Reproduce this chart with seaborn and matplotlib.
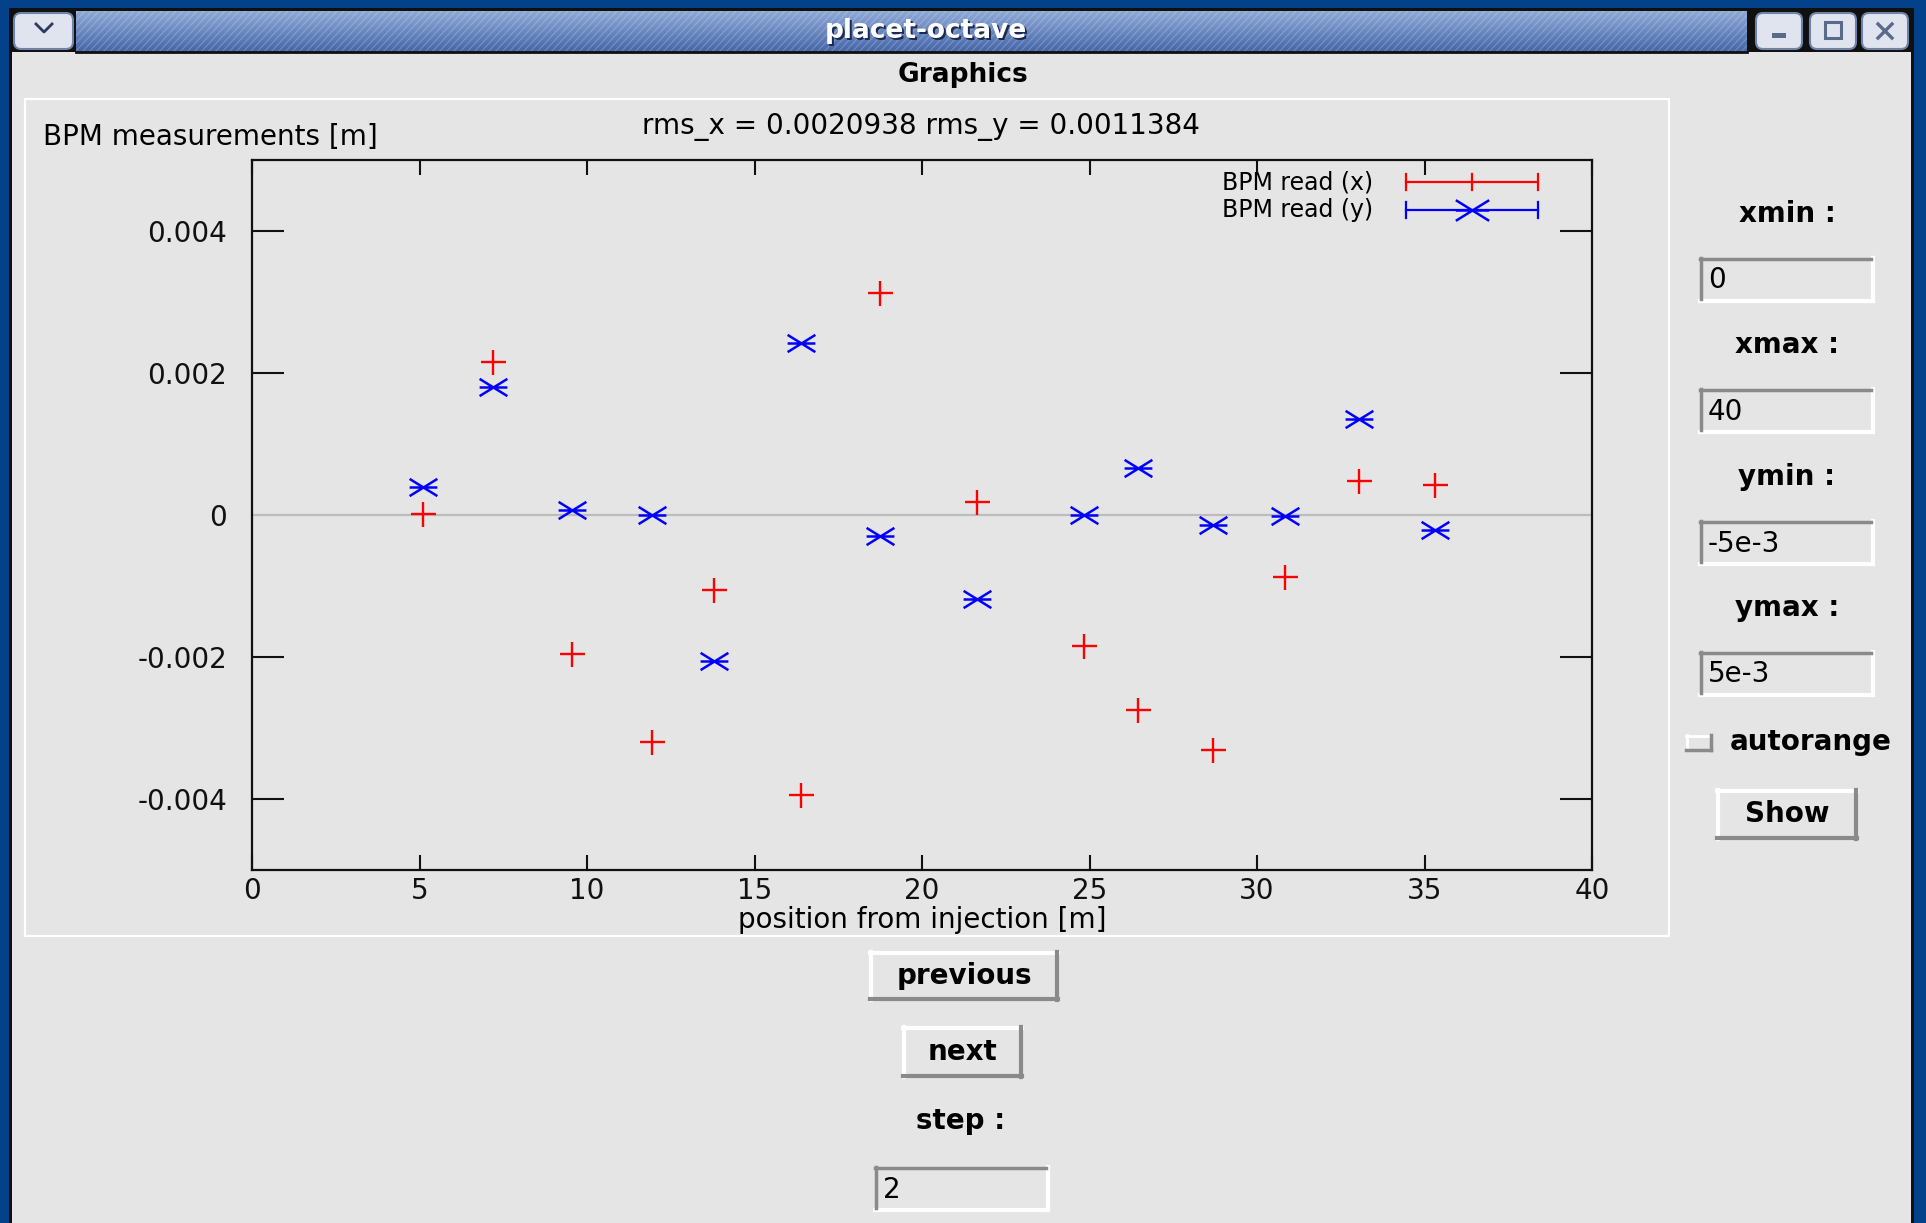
import numpy as np
import pandas as pd
import matplotlib
matplotlib.use("Agg")
import matplotlib.pyplot as plt
from matplotlib.path import Path
from matplotlib.patches import Rectangle, FancyBboxPatch
import seaborn as sns

# ---------------- data ----------------
positions = [5.1, 7.2, 9.55, 11.95, 13.8, 16.4, 18.75, 21.65, 24.85, 26.45, 28.7, 30.85, 33.05, 35.3]
bpm_x = [0.00002, 0.00216, -0.00196, -0.00320, -0.00106, -0.00395, 0.00312,
         0.00019, -0.00184, -0.00274, -0.00331, -0.00088, 0.00048, 0.00042]
bpm_y = [0.00040, 0.00180, 0.00007, 0.00000, -0.00206, 0.00242, -0.00029,
         -0.00119, 0.00000, 0.00066, -0.00014, -0.00002, 0.00135, -0.00021]
x_ticks = [0, 5, 10, 15, 20, 25, 30, 35, 40]
y_ticks = [-0.004, -0.002, 0.0, 0.002, 0.004]
y_tick_labels = ["-0.004", "-0.002", "0", "0.002", "0.004"]
legend_labels = ["BPM read (x)", "BPM read (y)"]
title_text = "rms_x = 0.0020938 rms_y = 0.0011384"
field_labels = ["xmin :", "xmax :", "ymin :", "ymax :"]
field_values = ["0", "40", "-5e-3", "5e-3"]

plt.rcParams['font.family'] = ['DejaVu Sans']
W, H = 1926, 1223
GRAY = '#e5e5e5'
FS = 20
fig = plt.figure(figsize=(W / 100, H / 100), dpi=100)
fig.patch.set_facecolor('#03428a')

# ---------------- window chrome (pixel coordinates) ----------------
bg = fig.add_axes([0, 0, 1, 1], zorder=0)
bg.set_xlim(0, W)
bg.set_ylim(H, 0)
bg.axis('off')

bg.add_patch(Rectangle((9, 8), 1905, H, fc='#101010', ec='none'))
bg.add_patch(Rectangle((12, 52), 1899, H, fc=GRAY, ec='none'))

# title bar gradient
grad = np.linspace(0, 1, 64)[:, None]
c_top = np.array([0.56, 0.66, 0.84])
c_bot = np.array([0.27, 0.40, 0.66])
img = c_top[None, None, :] * (1 - grad[..., None]) + c_bot[None, None, :] * grad[..., None]
img = np.repeat(img, 2, axis=1)
bg.imshow(img, extent=[76, 1747, 52, 11], aspect='auto', zorder=1)
clip = Rectangle((76, 11), 1671, 41, transform=bg.transData)
for xs in np.arange(40, 1760, 7):
    ln, = bg.plot([xs, xs + 38], [52, 11], color='white', lw=0.8, alpha=0.22, zorder=2)
    ln.set_clip_path(clip)
bg.plot([76, 1747], [52, 52], color='#101010', lw=2, zorder=3)
bg.text(928, 33, "placet-octave", color='#1a2a50', fontsize=19, fontweight='bold',
        ha='center', va='center', zorder=3)
bg.text(926, 31, "placet-octave", color='white', fontsize=19, fontweight='bold',
        ha='center', va='center', zorder=4)

# title bar buttons
def tb_button(x0, x1):
    bg.add_patch(FancyBboxPatch((x0, 13), x1 - x0, 36, boxstyle="round,pad=0,rounding_size=7",
                                fc='#dfe4ee', ec='#6f82a8', lw=1.5, zorder=3))
tb_button(14, 73)
bg.plot([36, 44, 52], [24, 32, 24], color='#2a3a60', lw=2, zorder=4)
tb_button(1756, 1802)
bg.add_patch(Rectangle((1772, 33), 14, 5, fc='#5a6a8a', ec='none', zorder=4))
tb_button(1810, 1856)
bg.add_patch(Rectangle((1825, 22), 16, 16, fill=False, ec='#5a6a8a', lw=2.2, zorder=4))
tb_button(1862, 1908)
bg.plot([1878, 1892], [24, 38], color='#5a6a8a', lw=2.4, zorder=4)
bg.plot([1878, 1892], [38, 24], color='#5a6a8a', lw=2.4, zorder=4)

bg.text(963, 75, "Graphics", fontsize=19, fontweight='bold', ha='center', va='center')

# graphics panel frame
bg.add_patch(Rectangle((25, 99), 1644, 837, fill=False, ec='white', lw=1.6))
bg.text(43, 137, "BPM measurements [m]", fontsize=FS, ha='left', va='center')
bg.text(921, 127, title_text, fontsize=FS, ha='center', va='center')

# widgets
def entry(x0, y0, x1, y1, text):
    bg.add_patch(Rectangle((x0, y0), x1 - x0, y1 - y0, fc=GRAY, ec='none'))
    bg.plot([x0, x1], [y1, y1], color='white', lw=3)
    bg.plot([x1, x1], [y0, y1], color='white', lw=3)
    bg.plot([x0, x1 - 2], [y0 + 1, y0 + 1], color='#8a8a8a', lw=2.5)
    bg.plot([x0 + 1, x0 + 1], [y0, y1 - 2], color='#8a8a8a', lw=2.5)
    bg.text(x0 + 8, (y0 + y1) / 2 + 1, text, fontsize=FS, ha='left', va='center')

def button(x0, y0, x1, y1, text):
    bg.add_patch(Rectangle((x0, y0), x1 - x0, y1 - y0, fc=GRAY, ec='none'))
    bg.plot([x0, x1], [y0 + 1, y0 + 1], color='white', lw=3)
    bg.plot([x0 + 1, x0 + 1], [y0, y1], color='white', lw=3)
    bg.plot([x0, x1], [y1 - 1, y1 - 1], color='#8a8a8a', lw=3)
    bg.plot([x1 - 1, x1 - 1], [y0, y1], color='#8a8a8a', lw=3)
    bg.text((x0 + x1) / 2, (y0 + y1) / 2, text, fontsize=FS, fontweight='bold',
            ha='center', va='center')

label_y = [214, 345, 477, 608]
box_y = [258, 389, 521, 652]
for lab, val, ly, by in zip(field_labels, field_values, label_y, box_y):
    bg.text(1787, ly, lab, fontsize=FS, fontweight='bold', ha='center', va='center')
    entry(1700, by, 1873, by + 43, val)

bg.add_patch(Rectangle((1686, 735), 25, 15, fc=GRAY, ec='none'))
bg.plot([1686, 1711], [736, 736], color='white', lw=2)
bg.plot([1687, 1687], [735, 750], color='white', lw=2)
bg.plot([1686, 1711], [750, 750], color='#8a8a8a', lw=2.5)
bg.plot([1711, 1711], [735, 750], color='#8a8a8a', lw=2.5)
bg.text(1730, 742, "autorange", fontsize=FS, fontweight='bold', ha='left', va='center')
button(1717, 790, 1857, 839, "Show")

button(870, 952, 1058, 1000, "previous")
button(903, 1027, 1022, 1077, "next")
bg.text(961, 1121, "step :", fontsize=FS, fontweight='bold', ha='center', va='center')
entry(875, 1167, 1048, 1210, "2")

# ---------------- plot ----------------
L, R, T, B = 252, 1592, 160, 870
ax = fig.add_axes([L / W, 1 - B / H, (R - L) / W, (B - T) / H], zorder=2)
ax.set_facecolor(GRAY)

df = pd.DataFrame({"position": positions, "bpm_x": bpm_x, "bpm_y": bpm_y})

star = Path([(-1, -0.62), (1, 0.62), (-1, 0.62), (1, -0.62), (-1, 0), (1, 0)],
            [Path.MOVETO, Path.LINETO, Path.MOVETO, Path.LINETO, Path.MOVETO, Path.LINETO])

ax.axhline(0, color='#bcbcbc', lw=1.6, zorder=1)
sns.scatterplot(data=df, x="position", y="bpm_x", marker="+", s=324, color="#ff0000",
                linewidth=1.7, ax=ax, zorder=3, legend=False)
sns.scatterplot(data=df, x="position", y="bpm_y", marker=star, s=400, color="#0000ff",
                edgecolor="#0000ff", linewidth=1.8, ax=ax, zorder=3, legend=False)

ax.set_xlim(0, 40)
ax.set_ylim(-0.005, 0.005)
ax.set_xticks(x_ticks)
ax.set_xticklabels([str(t) for t in x_ticks])
ax.set_yticks(y_ticks)
ax.set_yticklabels(y_tick_labels)
ax.set_xlabel("position from injection [m]", fontsize=FS, labelpad=1)
ax.set_ylabel("")
for sp in ax.spines.values():
    sp.set_linewidth(1.6)
    sp.set_color('#111111')
ax.tick_params(axis='x', direction='in', length=11, width=1.5, top=True, bottom=True,
               labelsize=FS, pad=5, colors='#111111')
ax.tick_params(axis='y', direction='in', length=23, width=1.5, left=True, right=True,
               labelsize=FS, pad=18, colors='#111111')
zt = ax.yaxis.get_major_ticks()[2]
zt.tick1line.set_visible(False)
zt.tick2line.set_visible(False)

# legend (gnuplot style errorbar keys)
leg_colors = ['#ff0000', '#0000ff']
leg_y = [0.969, 0.930]
lx0, lx1, lxm = 0.861, 0.9597, 0.9104
cap = 0.0115
for lab, col, yy, mk in zip(legend_labels, leg_colors, leg_y, ['+', star]):
    ax.text(0.8366, yy, lab, transform=ax.transAxes, fontsize=17, ha='right', va='center')
    ax.plot([lx0, lx1], [yy, yy], color=col, lw=1.6, transform=ax.transAxes, clip_on=False)
    for xe in (lx0, lx1):
        ax.plot([xe, xe], [yy - cap, yy + cap], color=col, lw=1.6, transform=ax.transAxes,
                clip_on=False)
    if mk == '+':
        ax.plot([lxm, lxm], [yy - cap, yy + cap], color=col, lw=1.6, transform=ax.transAxes)
    else:
        ax.plot([lxm], [yy], marker=star, ms=24, mfc='none', mec=col, mew=1.8,
                transform=ax.transAxes)

fig.savefig("out.png", dpi=100, facecolor=fig.get_facecolor())
